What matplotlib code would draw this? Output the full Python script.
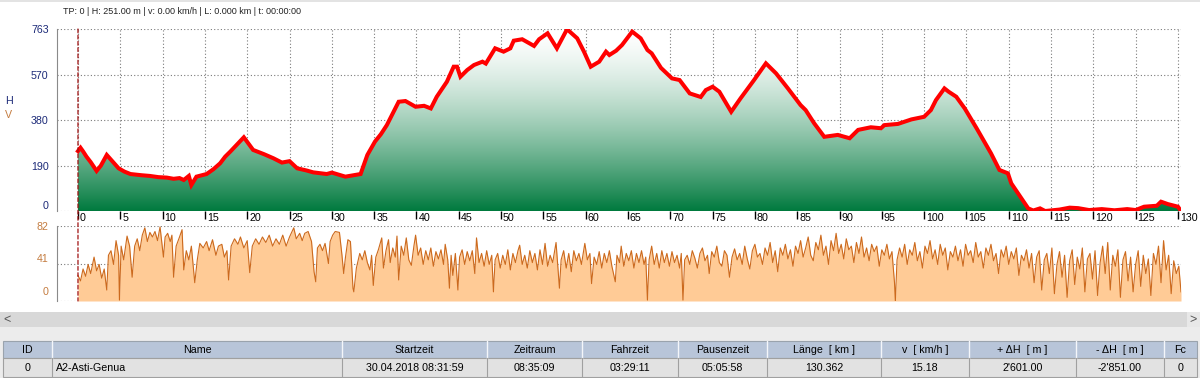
import numpy as np
import matplotlib
matplotlib.use("Agg")
import matplotlib.pyplot as plt
from matplotlib.patches import Rectangle, Polygon, ConnectionPatch
from matplotlib.transforms import ScaledTranslation

plt.rcParams['font.family'] = ['Liberation Sans', 'DejaVu Sans']

# elevation profile (km, m)
elev_km = [0.0, 0.3, 0.6, 1.0, 1.5, 2.2, 2.7, 3.4, 3.9, 4.8, 5.5, 6.2, 7.5, 8.5, 9.5, 10.5,
           11.3, 12.0, 12.5, 13.1, 13.4, 14.0, 15.2, 16.0, 16.8, 17.4,
           18.0, 19.6, 20.7, 22.0, 23.1, 24.1, 25.0, 25.9, 27.0, 27.8, 29.4, 30.0, 31.6, 33.4,
           34.2, 35.1, 35.8, 36.5, 37.9, 38.7, 39.9, 40.9, 41.7, 42.4, 43.6, 44.4, 44.8, 45.2,
           46.0, 46.8, 47.8, 48.2, 49.3, 50.3, 51.1, 51.5, 52.5, 53.9, 54.5, 55.5, 56.6, 57.8,
           59.0, 59.8, 60.6, 61.6, 62.4, 62.8, 63.6, 64.3, 65.5, 66.5, 67.3, 67.8, 68.9, 70.2,
           71.1, 72.3, 73.6, 74.2, 75.0, 75.8, 77.2, 78.3, 79.9, 81.3, 82.5, 83.9, 85.4, 86.0,
           87.0, 88.2, 89.8, 91.2, 92.2, 93.7, 94.9, 95.3, 96.9, 98.5, 100.0, 100.8, 101.4,
           102.4, 102.9, 103.8, 104.8, 106.2, 107.9, 108.9, 109.9, 110.3, 111.1, 112.3, 112.9,
           113.7, 114.3, 116.0, 117.2, 118.2, 119.5, 121.0, 122.5, 124.0, 125.0, 126.0, 127.5,
           128.0, 128.8, 130.0, 130.36]
elev_m = [251, 265, 250, 228, 205, 168, 190, 235, 215, 179, 165, 155, 150, 147, 142, 140,
          135, 138, 130, 147, 109, 144, 155, 175, 200, 228,
          249, 309, 256, 238, 221, 203, 209, 179, 170, 162, 155, 161, 144, 155,
          235, 291, 322, 360, 458, 461, 437, 441, 430, 479, 542, 605, 605, 563,
          591, 612, 626, 618, 682, 668, 682, 714, 720, 692, 720, 745, 682, 762,
          724, 668, 605, 626, 668, 654, 672, 696, 752, 724, 675, 661, 600, 556,
          549, 493, 478, 507, 521, 500, 416, 472, 549, 619, 577, 514, 444, 423,
          368, 311, 319, 305, 340, 351, 347, 360, 365, 384, 395, 423, 465,
          514, 500, 479, 430, 347, 242, 172, 158, 116, 74, 11, 2,
          11, 0, 6, 14, 12, 4, 8, 3, 8, 4, 18, 22,
          39, 29, 18, 0]

# speed samples (km, km/h)
speed_pts = [
    (0.0, 28), (0.3, 22), (0.6, 35), (0.9, 27), (1.2, 40), (1.5, 30), (1.9, 48), (2.2, 33),
    (2.5, 40), (2.8, 25), (3.1, 35), (3.4, 12), (3.6, 50), (3.9, 55), (4.2, 40), (4.5, 66),
    (4.8, 50), (4.9, 1), (5.1, 60), (5.4, 45), (5.8, 71), (6.1, 60), (6.4, 26), (6.7, 60),
    (7.0, 68), (7.3, 55), (7.6, 72), (7.9, 80), (8.2, 65), (8.5, 75), (8.8, 70), (9.1, 76),
    (9.4, 66), (9.7, 81), (10.1, 48), (10.3, 70), (10.6, 74), (10.9, 65), (11.1, 72),
    (11.3, 26), (11.6, 60), (12.0, 70), (12.3, 78), (12.5, 34), (12.8, 55), (13.1, 45),
    (13.4, 60), (13.8, 20), (14.1, 45), (14.4, 63), (14.8, 58), (15.2, 65), (15.5, 55),
    (15.9, 67), (16.3, 50), (16.6, 60), (17.0, 62), (17.3, 48), (17.6, 55), (17.8, 23),
    (18.1, 60), (18.5, 68), (18.9, 62), (19.2, 70), (19.6, 58), (20.0, 66), (20.3, 31),
    (20.6, 60), (21.0, 68), (21.4, 62), (21.8, 70), (22.2, 64), (22.6, 72), (23.0, 60),
    (23.4, 68), (23.8, 62), (24.2, 72), (24.6, 60), (25.0, 70), (25.5, 80), (25.8, 68),
    (26.2, 74), (26.5, 66), (26.8, 74), (27.2, 76), (27.6, 65), (27.9, 32), (28.1, 21),
    (28.3, 58), (28.6, 62), (28.9, 55), (29.2, 63), (29.6, 41), (29.8, 65), (30.1, 72),
    (30.4, 76), (30.9, 75), (31.2, 50), (31.4, 30), (31.6, 47), (31.9, 67), (32.2, 65),
    (32.5, 14), (32.6, 10), (32.9, 36), (33.3, 52), (33.6, 45), (33.9, 55), (34.2, 42),
    (34.5, 34), (34.7, 50), (34.9, 17), (35.2, 48), (35.5, 56), (35.9, 69), (36.1, 36),
    (36.4, 55), (36.7, 67), (36.9, 42), (37.2, 58), (37.5, 48), (37.7, 71), (37.9, 23),
    (38.2, 60), (38.5, 50), (38.8, 69), (39.1, 45), (39.4, 39), (39.7, 60), (39.9, 72),
    (40.2, 50), (40.5, 58), (40.8, 40), (41.1, 55), (41.4, 45), (41.7, 58), (42.0, 38),
    (42.3, 54), (42.6, 46), (42.9, 56), (43.2, 40), (43.4, 62), (43.7, 45), (43.9, 14),
    (44.1, 50), (44.3, 28), (44.6, 52), (44.9, 12), (45.1, 48), (45.4, 56), (45.7, 40),
    (46.0, 54), (46.3, 44), (46.6, 55), (46.9, 30), (47.1, 69), (47.4, 42), (47.7, 52),
    (48.0, 38), (48.3, 55), (48.6, 40), (48.9, 50), (49.1, 10), (49.3, 45), (49.6, 52),
    (49.9, 36), (50.2, 50), (50.5, 40), (50.8, 56), (51.1, 34), (51.4, 52), (51.7, 42),
    (52.0, 55), (52.2, 61), (52.5, 40), (52.8, 50), (53.1, 36), (53.4, 55), (53.7, 42),
    (54.0, 52), (54.3, 34), (54.6, 56), (54.9, 40), (55.2, 63), (55.5, 38), (55.8, 50),
    (56.1, 42), (56.5, 64), (56.9, 14), (57.1, 45), (57.4, 55), (57.7, 36), (58.0, 52),
    (58.3, 32), (58.6, 55), (58.9, 44), (59.2, 52), (59.5, 40), (59.9, 63), (60.2, 45),
    (60.5, 52), (60.7, 19), (61.0, 48), (61.3, 40), (61.6, 54), (61.9, 36), (62.2, 52),
    (62.5, 42), (62.8, 55), (63.1, 38), (63.5, 21), (63.7, 50), (64.0, 42), (64.2, 60),
    (64.5, 38), (64.8, 52), (65.1, 44), (65.4, 55), (65.7, 36), (66.0, 52), (66.3, 42),
    (66.6, 55), (66.9, 40), (67.1, 48), (67.3, 1), (67.5, 45), (67.8, 60), (68.1, 40),
    (68.4, 52), (68.7, 36), (69.0, 55), (69.3, 42), (69.6, 52), (69.9, 38), (70.2, 54),
    (70.5, 42), (70.8, 50), (71.1, 36), (71.3, 52), (71.5, 1), (71.7, 45), (72.0, 50),
    (72.3, 40), (72.6, 55), (72.9, 47), (73.2, 36), (73.5, 52), (73.8, 58), (74.1, 44),
    (74.4, 50), (74.6, 30), (74.9, 54), (75.2, 48), (75.5, 60), (75.8, 42), (76.1, 38),
    (76.4, 55), (76.7, 50), (77.0, 26), (77.3, 48), (77.6, 57), (77.9, 45), (78.2, 52),
    (78.5, 40), (78.8, 60), (79.1, 46), (79.4, 35), (79.7, 55), (80.0, 62), (80.3, 48),
    (80.6, 52), (80.9, 40), (81.2, 58), (81.5, 50), (81.8, 64), (82.1, 42), (82.4, 55),
    (82.7, 32), (83.0, 58), (83.3, 50), (83.6, 62), (83.9, 46), (84.2, 56), (84.5, 38),
    (84.8, 60), (85.1, 52), (85.4, 66), (85.7, 48), (86.0, 58), (86.3, 70), (86.6, 50),
    (86.9, 44), (87.2, 64), (87.5, 56), (87.8, 72), (88.1, 50), (88.4, 60), (88.7, 40),
    (89.0, 66), (89.3, 55), (89.6, 74), (89.9, 52), (90.2, 62), (90.5, 46), (90.8, 68),
    (91.1, 56), (91.4, 60), (91.7, 42), (92.0, 64), (92.3, 52), (92.6, 70), (92.9, 48),
    (93.2, 58), (93.5, 44), (93.8, 62), (94.1, 54), (94.4, 60), (94.7, 38), (95.0, 56),
    (95.3, 50), (95.6, 62), (95.9, 46), (96.2, 54), (96.5, 20), (96.6, 0), (96.8, 45),
    (97.1, 58), (97.4, 48), (97.7, 62), (98.0, 40), (98.3, 56), (98.6, 50), (98.9, 64),
    (99.2, 44), (99.5, 54), (99.8, 36), (100.1, 60), (100.4, 52), (100.7, 66), (101.0, 46),
    (101.3, 56), (101.6, 40), (101.9, 62), (102.2, 50), (102.5, 58), (102.8, 34),
    (103.1, 54), (103.4, 48), (103.7, 60), (104.0, 44), (104.3, 56), (104.6, 38),
    (104.9, 62), (105.2, 50), (105.5, 55), (105.8, 42), (106.1, 64), (106.4, 48),
    (106.7, 54), (107.0, 36), (107.3, 58), (107.6, 50), (107.9, 62), (108.2, 44),
    (108.5, 52), (108.8, 30), (109.1, 56), (109.4, 48), (109.7, 60), (110.0, 40),
    (110.3, 54), (110.6, 46), (110.9, 58), (111.2, 28), (111.5, 50), (111.8, 44),
    (112.1, 56), (112.4, 36), (112.7, 52), (113.0, 20), (113.3, 48), (113.6, 55),
    (113.9, 12), (114.2, 45), (114.5, 52), (114.8, 30), (115.1, 58), (115.4, 8),
    (115.7, 40), (116.0, 54), (116.3, 26), (116.6, 50), (116.9, 4), (117.2, 44),
    (117.5, 56), (117.8, 18), (118.1, 48), (118.4, 35), (118.7, 58), (119.0, 10),
    (119.3, 46), (119.6, 52), (119.9, 24), (120.2, 55), (120.5, 6), (120.8, 42),
    (121.1, 60), (121.4, 30), (121.7, 64), (122.0, 12), (122.3, 50), (122.6, 38),
    (122.9, 56), (123.2, 4), (123.5, 45), (123.8, 54), (124.1, 22), (124.4, 48),
    (124.7, 10), (125.0, 40), (125.3, 55), (125.6, 16), (125.9, 50), (126.2, 30),
    (126.5, 46), (126.8, 6), (127.1, 52), (127.4, 40), (127.7, 60), (128.0, 20),
    (128.3, 66), (128.6, 34), (128.9, 50), (129.2, 8), (129.5, 44), (129.8, 30),
    (130.1, 38), (130.36, 10),
]
speed_km = [p[0] for p in speed_pts]
speed_kmh = [p[1] for p in speed_pts]

elev_ticks = [0, 190, 380, 570, 763]
speed_ticks = [0, 41, 82]
km_ticks = list(range(0, 131, 5))

title_text = "TP: 0 | H: 251.00 m | v: 0.00 km/h | L: 0.000 km | t: 00:00:00"

table_cols = ["ID", "Name", "Startzeit", "Zeitraum", "Fahrzeit", "Pausenzeit",
              "Länge  [ km ]", "v  [ km/h ]", "+ ΔH  [ m ]", "- ΔH  [ m ]", "Fc"]
table_row = ["0", "A2-Asti-Genua", "30.04.2018 08:31:59", "08:35:09", "03:29:11",
             "05:05:58", "130.362", "15.18", "2'601.00", "-2'851.00", "0"]
col_edges = [3, 52, 342, 487, 582, 678, 767, 881, 969, 1076, 1164, 1197]

W, H = 1200, 378
fig = plt.figure(figsize=(W / 100, H / 100), dpi=100)


def px(x0, y0, x1, y1):
    # pixel box (top-left origin) -> figure fraction rect
    return [x0 / W, 1 - y1 / H, (x1 - x0) / W, (y1 - y0) / H]


def box(x0, y0, x1, y1, fc, ec='none', lw=0.0, z=1):
    r = px(x0, y0, x1, y1)
    fig.patches.append(Rectangle((r[0], r[1]), r[2], r[3], transform=fig.transFigure,
                                 facecolor=fc, edgecolor=ec, linewidth=lw, zorder=z))


xmin, xmax = -2.48, 130.36
grid_kw = dict(color='#7a7a7a', linestyle=(0, (1, 2)), linewidth=0.8)

# ---- elevation panel
ax1 = fig.add_axes(px(57, 29, 1181, 211))
ax1.set_xlim(xmin, xmax)
ax1.set_ylim(0, 763)
x = np.array(elev_km)
y = np.array(elev_m)
verts = np.column_stack([np.r_[x, x[::-1]], np.r_[y, np.zeros_like(y)]])
poly = Polygon(verts, closed=True, facecolor='none', edgecolor='none')
ax1.add_patch(poly)
t = np.linspace(0, 1, 256)[:, None]
w = 1 - (1 - t) ** 1.5
base = np.array([0, 122, 62]) / 255
grad = base[None, None, :] * (1 - w[..., None]) + w[..., None]
grad = np.repeat(grad, 2, axis=1)
im = ax1.imshow(grad, extent=(xmin, xmax, 0, 763), origin='lower', aspect='auto', zorder=1)
im.set_clip_path(poly)
ax1.plot(elev_km, elev_m, color='#ff0000', linewidth=2.9, zorder=3, solid_joinstyle='miter')

ax1.set_xticks(km_ticks)
ax1.set_xticklabels([str(k) for k in km_ticks])
ax1.set_yticks(elev_ticks)
ax1.set_yticklabels([str(v) for v in elev_ticks])
ax1.grid(True, **grid_kw)
ax1.set_axisbelow(True)
ax1.tick_params(axis='x', direction='out', length=6, width=1, color='black',
                pad=-4.3, labelsize=7.7)
ax1.tick_params(axis='y', length=0, pad=6, labelsize=7.7, labelcolor='#1c2a78')
for lbl in ax1.get_xticklabels():
    lbl.set_horizontalalignment('left')
    lbl.set_transform(lbl.get_transform() + ScaledTranslation(2 / 100, 0, fig.dpi_scale_trans))
ax1.get_yticklabels()[0].set_verticalalignment('bottom')
for s in ['top', 'right', 'bottom']:
    ax1.spines[s].set_visible(False)
ax1.spines['left'].set_color('#8a8a8a')

# ---- speed panel
ax2 = fig.add_axes(px(57, 226, 1181, 301))
ax2.set_xlim(xmin, xmax)
ax2.set_ylim(0, 82)
ax2.fill_between(speed_km, speed_kmh, 0, color='#ffcb96', linewidth=0, zorder=1)
ax2.plot(speed_km, speed_kmh, color='#cc6a1e', linewidth=0.8, zorder=2)
ax2.set_xticks([])
ax2.set_yticks(speed_ticks)
ax2.set_yticklabels([str(v) for v in speed_ticks])
ax2.grid(True, axis='y', **grid_kw)
ax2.set_axisbelow(True)
ax2.tick_params(axis='y', length=0, pad=6, labelsize=7.7, labelcolor='#c47c40')
sl = ax2.get_yticklabels()
sl[0].set_verticalalignment('bottom')
sl[0].set_transform(sl[0].get_transform() + ScaledTranslation(0, 4 / 100, fig.dpi_scale_trans))
sl[1].set_verticalalignment('bottom')
for s in ['top', 'right', 'bottom']:
    ax2.spines[s].set_visible(False)
ax2.spines['left'].set_color('#8a8a8a')

# cursor at TP 0
cur = ConnectionPatch(xyA=(0, 763), coordsA=ax1.transData, xyB=(0, 0), coordsB=ax2.transData,
                      color='#a01010', linestyle=(0, (3, 2)), linewidth=0.9, zorder=5)
fig.add_artist(cur)

fig.text(63 / W, 1 - 12 / H, title_text, fontsize=6.45, color='#222222', va='center')
fig.text(9 / W, 1 - 101 / H, "H", fontsize=7.7, color='#1c2a78', va='center', ha='center')
fig.text(9 / W, 1 - 115 / H, "V", fontsize=7.7, color='#c47c40', va='center', ha='center')

# ---- top border, scrollbar and table strip
box(0, 0, 1200, 2, '#e3e3e3')
box(0, 312, 1200, 378, '#ececec')
box(0, 312, 1187, 327, '#d8d8d8')
box(1187, 312, 1200, 327, '#e8e8e8')
fig.text(7 / W, 1 - 319.5 / H, "<", fontsize=9, color='#555555', va='center', ha='center')
fig.text(1193 / W, 1 - 319.5 / H, ">", fontsize=9, color='#555555', va='center', ha='center')

hy0, hy1, ry1 = 341, 358, 377
box(col_edges[0], hy0, col_edges[-1], hy1, '#b8c5d9', ec='#9aa3ad', lw=0.8)
box(col_edges[0], hy1, col_edges[-1], ry1, '#e2e2e2', ec='#a0a0a0', lw=0.8)
for xe in col_edges[1:-1]:
    fig.add_artist(plt.Line2D([xe / W, xe / W], [1 - hy0 / H, 1 - hy1 / H],
                              transform=fig.transFigure, color='#f4f6fa', linewidth=1.0))
    fig.add_artist(plt.Line2D([xe / W, xe / W], [1 - hy1 / H, 1 - ry1 / H],
                              transform=fig.transFigure, color='#a0a0a0', linewidth=0.8))
for i, (name, val) in enumerate(zip(table_cols, table_row)):
    xc = (col_edges[i] + col_edges[i + 1]) / 2
    fig.text(xc / W, 1 - 350 / H, name, fontsize=7.7, color='black', ha='center', va='center')
    if i == 1:
        fig.text((col_edges[i] + 4) / W, 1 - 368 / H, val, fontsize=7.7, color='black',
                 ha='left', va='center')
    else:
        fig.text(xc / W, 1 - 368 / H, val, fontsize=7.7, color='black', ha='center', va='center')

fig.savefig("out.png", dpi=100)
